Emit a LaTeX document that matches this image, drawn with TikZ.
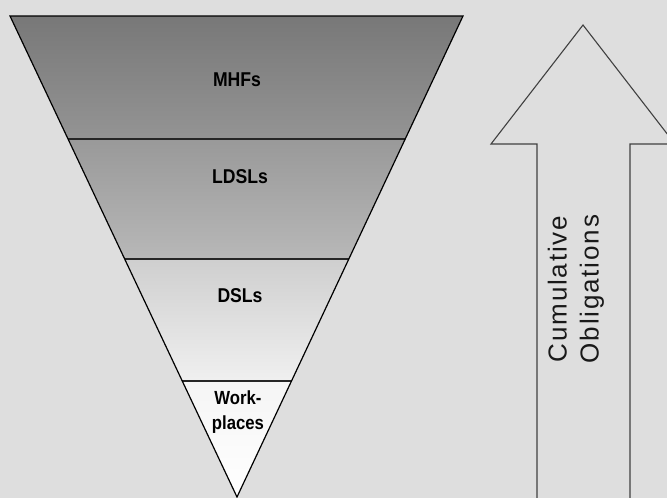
\documentclass[tikz,border=0pt]{standalone}
\usepackage{fontspec}
\setmainfont{Liberation Sans}
\usetikzlibrary{calc}
\definecolor{bg}{HTML}{DEDEDE}
\tikzset{
  band/.style={draw=none},
  sep/.style={draw=black!85, line width=1.6pt},
  lbl/.style={font=\fontsize{20}{20}\selectfont\bfseries, text=black, align=center, inner sep=0pt, xscale=0.88},
  outline/.style={draw=black, line width=1.2pt, line join=miter},
  bigarrow/.style={draw=black!75, line width=1.1pt, line join=miter, fill=bg}
}
\begin{document}
\begin{tikzpicture}[x=1pt,y=-1pt]
\fill[bg] (0,0) rectangle (667,498);
\useasboundingbox (0,0) rectangle (667,498);
\clip (0,0) rectangle (667,498);
\coordinate (TL) at (10,16);
\coordinate (TR) at (463,16);
\coordinate (A) at (237,497);
\coordinate (L1) at ($(TL)!0.25572!(A)$);
\coordinate (R1) at ($(TR)!0.25572!(A)$);
\coordinate (L2) at ($(TL)!0.50520!(A)$);
\coordinate (R2) at ($(TR)!0.50520!(A)$);
\coordinate (L3) at ($(TL)!0.75884!(A)$);
\coordinate (R3) at ($(TR)!0.75884!(A)$);
% bands
\shade[band, top color=black!53, bottom color=black!42] (TL) -- (TR) -- (R1) -- (L1) -- cycle;
\shade[band, top color=black!40, bottom color=black!28] (L1) -- (R1) -- (R2) -- (L2) -- cycle;
\shade[band, top color=black!19, bottom color=black!6] (L2) -- (R2) -- (R3) -- (L3) -- cycle;
\shade[band, top color=black!4, bottom color=white] (L3) -- (R3) -- (A) -- cycle;
\draw[sep] (L1) -- (R1);
\draw[sep] (L2) -- (R2);
\draw[sep] (L3) -- (R3);
\draw[outline] (TL) -- (TR) -- (A) -- cycle;
% labels
\node[lbl] (mhf) at (237,80) {MHFs};
\node[lbl] (ldsl) at (240,177) {LDSLs};
\node[lbl] (dsl) at (240,296) {DSLs};
\node[lbl, font=\fontsize{19}{25}\selectfont\bfseries] (wp) at (238,412) {Work-\\places};
% arrow
\coordinate (tip) at (583,25);
\draw[bigarrow] (537,520) -- (537,144) -- (491,144) -- (tip) -- (675,144) -- (630,144) -- (630,520);
\node[rotate=90, align=center, inner sep=0pt, text=black!90,
  font=\fontsize{26}{32}\selectfont\addfontfeature{LetterSpace=7}] (cum) at (576,289)
  {Cumulative\\Obligations};
\end{tikzpicture}
\end{document}
